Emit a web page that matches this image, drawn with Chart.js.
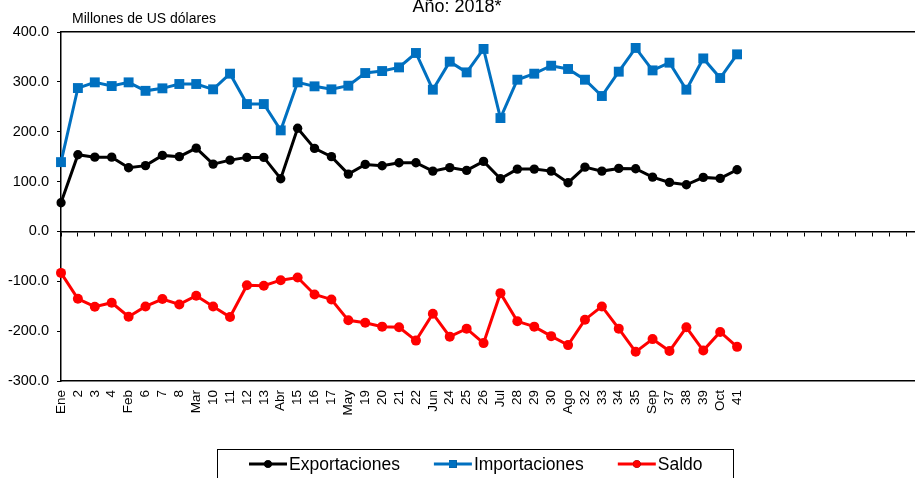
<!DOCTYPE html>
<html>
<head>
<meta charset="utf-8">
<style>
html,body{margin:0;padding:0;background:#fff;overflow:hidden;width:915px;height:478px}
#wrap{position:relative;width:930px;height:478px}
canvas{display:block}
</style>
<script src="https://cdn.jsdelivr.net/npm/chart.js@4.4.1/dist/chart.umd.min.js"></script>
</head>
<body>
<div id="wrap"><canvas id="c" width="930" height="478"></canvas></div>
<script>
// ---- data ----
const chartTitle = 'Año: 2018*';
const unitsLabel = 'Millones de US dólares';
const weekLabels = ['Ene','2','3','4','Feb','6','7','8','Mar','10','11','12','13','Abr','15','16','17','May','19','20','21','22','Jun','24','25','26','Jul','28','29','30','Ago','32','33','34','35','Sep','37','38','39','Oct','41'];
const futureWeekLabels = ['','','','','','','','','','',''];
const exportaciones = [57.5,153.8,149,149,127.8,132,152.5,150,167,135,143,148.5,148.5,105.7,207,166.5,150,115,134.4,131.8,137.8,137.8,121,128,122.4,140.5,105.7,125,125,121,97.7,129,121,126.4,125.8,109,98.3,93.6,108.4,106.4,123.7];
const importaciones = [139,287.6,299,291.6,299,282,287,295.7,295.7,285,316.4,255.5,255.5,202.7,299,291,285,292.3,317.7,321.7,329,357.9,284.3,340.5,319,366,227.4,304.3,316.4,332.4,325.8,304.3,271.6,320.4,368,323,338.5,284.3,347,307.7,355.2];
const saldo = [-83.2,-135,-151,-143,-171,-150.4,-135.7,-146.4,-129,-150.4,-171.7,-107.8,-109,-97.8,-92.5,-126.4,-136.4,-178.3,-183,-191,-192.3,-219,-165,-211,-195,-224,-123.8,-180.3,-191,-210,-228,-177,-150.4,-195,-241.5,-216,-240,-192.3,-239,-201.6,-231.5];
const yTicks = [400,300,200,100,0,-100,-200,-300];

const allLabels = weekLabels.concat(futureWeekLabels);
const FONT = '"Liberation Sans", Arial, Helvetica, sans-serif';

const framePlugin = {
  id: 'frame',
  afterDraw(chart) {
    const ctx = chart.ctx;
    ctx.save();
    ctx.fillStyle = '#000';
    ctx.textBaseline = 'alphabetic';
    ctx.font = '18px ' + FONT;
    ctx.textAlign = 'center';
    ctx.fillText(chartTitle, 457, 12);
    ctx.font = '14px ' + FONT;
    ctx.textAlign = 'left';
    ctx.fillText(unitsLabel, 72, 23);

    // legend
    ctx.strokeStyle = '#000';
    ctx.lineWidth = 1;
    ctx.strokeRect(217.5, 449.5, 516, 40);
    ctx.font = '17.5px ' + FONT;
    ctx.textBaseline = 'middle';
    let x = 249;
    const y = 464;
    chart.data.datasets.forEach(ds => {
      ctx.strokeStyle = ds.borderColor;
      ctx.lineWidth = 3;
      ctx.beginPath();
      ctx.moveTo(x, y);
      ctx.lineTo(x + 38, y);
      ctx.stroke();
      Chart.helpers.drawPoint(ctx, {
        pointStyle: ds.pointStyle,
        radius: ds.pointStyle === 'rect' ? 5.5 : 3.8,
        rotation: 0,
        borderWidth: 0
      }, x + 19, y);
      ctx.fillStyle = ds.pointBackgroundColor;
      ctx.fill();
      ctx.fillStyle = '#000';
      ctx.textAlign = 'left';
      ctx.fillText(ds.label, x + 40, y + 1);
      x += 40 + ctx.measureText(ds.label).width + 34;
    });
    ctx.restore();
  }
};

function noSidePadding(scale) {
  scale.paddingLeft = 0;
  scale.paddingRight = 0;
}

new Chart(document.getElementById('c'), {
  type: 'line',
  data: {
    labels: allLabels,
    datasets: [
      {
        label: 'Exportaciones', data: exportaciones,
        borderColor: '#000000', backgroundColor: '#000000',
        pointBackgroundColor: '#000000', pointBorderColor: '#000000',
        borderWidth: 3, pointStyle: 'circle', pointRadius: 4.7, pointBorderWidth: 0,
        tension: 0, fill: false
      },
      {
        label: 'Importaciones', data: importaciones,
        borderColor: '#0070C0', backgroundColor: '#0070C0',
        pointBackgroundColor: '#0070C0', pointBorderColor: '#0070C0',
        borderWidth: 3, pointStyle: 'rect', pointRadius: 7, pointBorderWidth: 0,
        tension: 0, fill: false
      },
      {
        label: 'Saldo', data: saldo,
        borderColor: '#FF0000', backgroundColor: '#FF0000',
        pointBackgroundColor: '#FF0000', pointBorderColor: '#FF0000',
        borderWidth: 3, pointStyle: 'circle', pointRadius: 5, pointBorderWidth: 0,
        tension: 0, fill: false
      }
    ]
  },
  options: {
    responsive: false,
    animation: false,
    devicePixelRatio: 1,
    layout: { padding: { top: 32, right: 3, bottom: 0, left: 0 } },
    plugins: {
      legend: { display: false },
      title: { display: false },
      tooltip: { enabled: false }
    },
    scales: {
      x: {
        type: 'category',
        position: 'bottom',
        offset: false,
        grid: { display: false, drawTicks: false },
        border: { display: true, color: '#000', width: 1.5 },
        ticks: {
          autoSkip: false, maxRotation: 90, minRotation: 90, padding: 9,
          color: '#000', font: { family: FONT, size: 13.5 }
        },
        afterFit(scale) { scale.height = 97; noSidePadding(scale); }
      },
      x0: {
        type: 'category',
        position: { y: 0 },
        offset: false,
        grid: { display: true, drawOnChartArea: false, drawTicks: true, tickLength: 4, tickColor: '#000', tickWidth: 1 },
        border: { display: true, color: '#000', width: 1.5 },
        ticks: { display: false },
        afterFit(scale) { noSidePadding(scale); }
      },
      xTop: {
        type: 'category',
        position: 'top',
        offset: false,
        grid: { display: false, drawTicks: false },
        border: { display: true, color: '#000', width: 1.5 },
        ticks: { display: false },
        afterFit(scale) { scale.height = 0; noSidePadding(scale); }
      },
      y: {
        type: 'linear',
        position: 'left',
        min: -300, max: 400,
        afterBuildTicks(scale) { scale.ticks = yTicks.map(v => ({ value: v })); },
        grid: { display: true, drawOnChartArea: false, drawTicks: true, tickLength: 4, tickColor: '#000' },
        border: { display: true, color: '#000', width: 1.5 },
        ticks: {
          padding: 8, color: '#000', font: { family: FONT, size: 14.5 },
          callback: v => Number(v).toFixed(1)
        },
        afterFit(scale) { scale.width = 61; }
      }
    }
  },
  plugins: [framePlugin]
});
</script>
</body>
</html>
